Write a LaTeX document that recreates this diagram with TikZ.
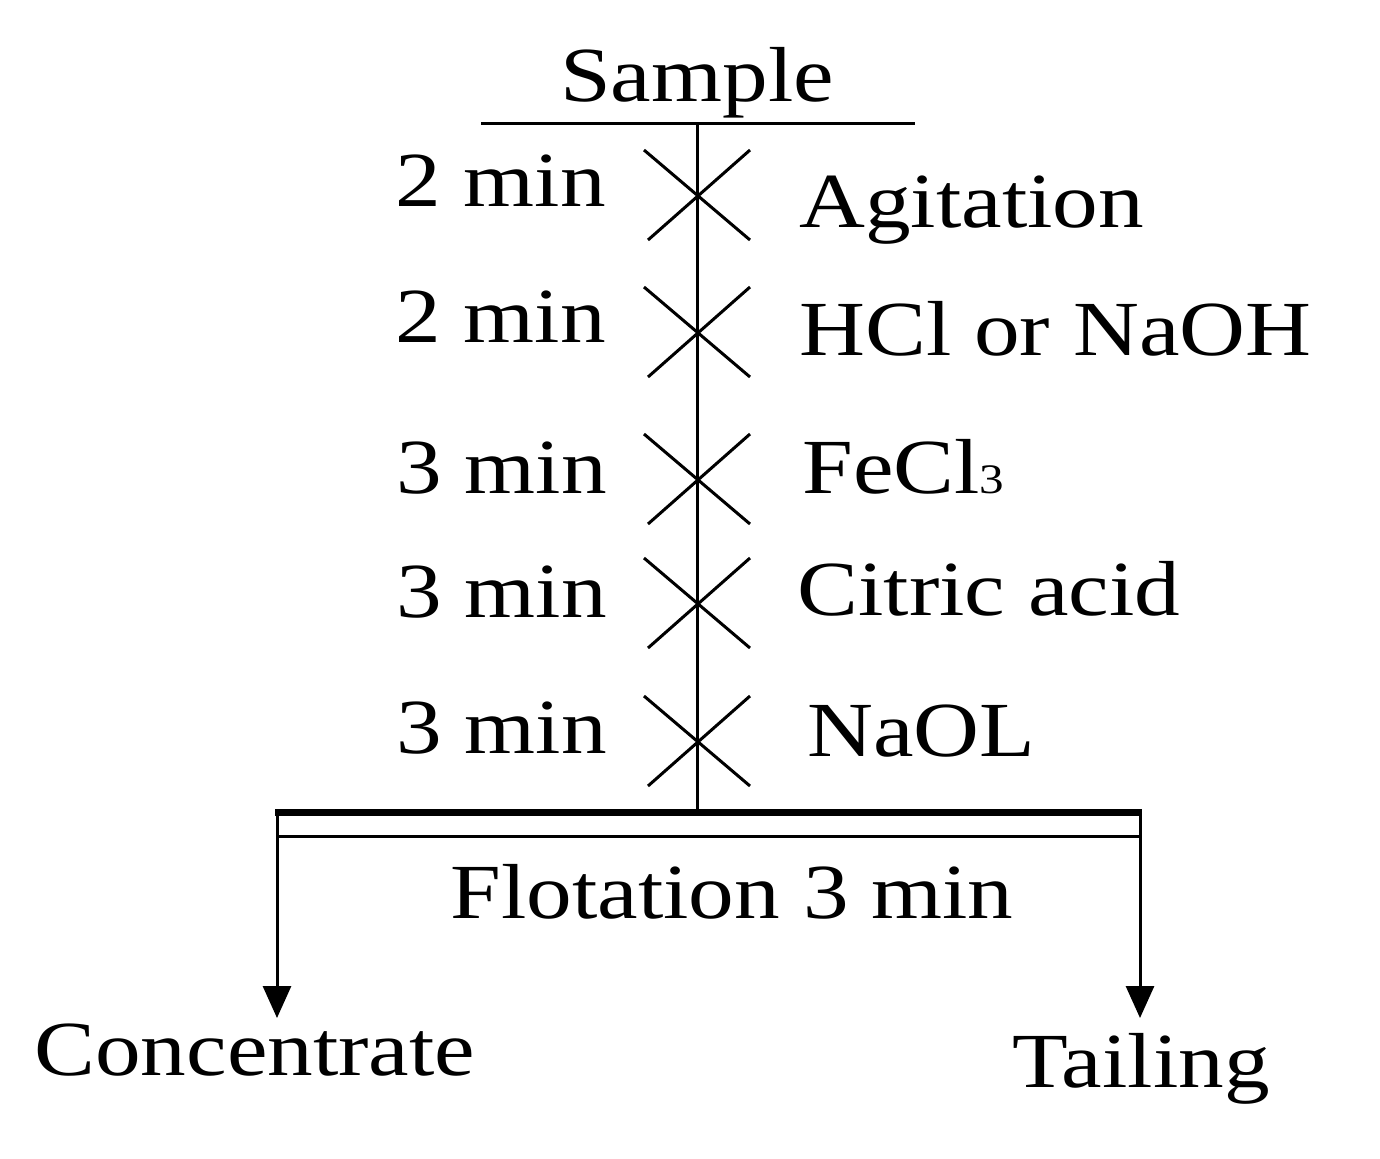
\documentclass[tikz,border=0pt]{standalone}
\usepackage{fontspec}
\setmainfont{Liberation Serif}[FakeStretch=1.17]
\usetikzlibrary{arrows.meta}
\tikzstyle{lbl} = [inner sep=0pt, font=\fontsize{39}{45}\selectfont]
\tikzstyle{thin} = [line width=1.5pt]
\tikzstyle{bar} = [line width=3.5pt]
\tikzstyle{arr} = [line width=1.5pt, -{Triangle[length=16pt,width=14pt]}]

\begin{document}
\begin{tikzpicture}[x=0.5pt, y=-0.5pt]
		\useasboundingbox (0,0) rectangle (1380,1158);
		\node[lbl, anchor=base](sample) at (697,101){Sample};
		\coordinate (sl) at (481,123);
		\coordinate (sr) at (915,123);
		\coordinate (stop) at (697,123);
		\coordinate (sbot) at (697,812);
		
		\node[lbl, anchor=base east](t1) at (606,206){2 min};
		\node[lbl, anchor=base east](t2) at (606,342){2 min};
		\node[lbl, anchor=base east](t3) at (607,493){3 min};
		\node[lbl, anchor=base east](t4) at (607,617){3 min};
		\node[lbl, anchor=base east](t5) at (607,753){3 min};
		
		\node[lbl, anchor=base west](agit) at (799,227){Agitation};
		\node[lbl, anchor=base west](ph) at (799,355){HCl or NaOH};
		\node[lbl, anchor=base west](fecl) at (802,493){FeCl{\fontsize{21}{24}\selectfont 3}};
		\node[lbl, anchor=base west](citric) at (797,615){Citric acid};
		\node[lbl, anchor=base west](naol) at (807,756){NaOL};
		
		\node[lbl, anchor=base](flot) at (732,918){Flotation 3 min};
		\node[lbl, anchor=base west](conc) at (34,1075){Concentrate};
		\node[lbl, anchor=base west](tail) at (1012,1087){Tailing};
		
		\coordinate (bl) at (275,812);
		\coordinate (br) at (1142,812);
		\coordinate (cl) at (277,836);
		\coordinate (cr) at (1140,836);
		\coordinate (ctip) at (277,1018);
		\coordinate (ttip) at (1140,1018);
		
		\draw[thin](sl)--(sr);
		\draw[thin](stop)--(sbot);
		\foreach \y in {195,332,479,603,741}{
			\draw[thin] (644,\y-45) -- (750,\y+45);
			\draw[thin] (750,\y-45) -- (648,\y+45);
		}
		\draw[bar](bl)--(br);
		\draw[thin](cl)--(cr);
		\draw[arr](277,812)--(ctip);
		\draw[arr](1140,812)--(ttip);
	\end{tikzpicture}
\end{document}
